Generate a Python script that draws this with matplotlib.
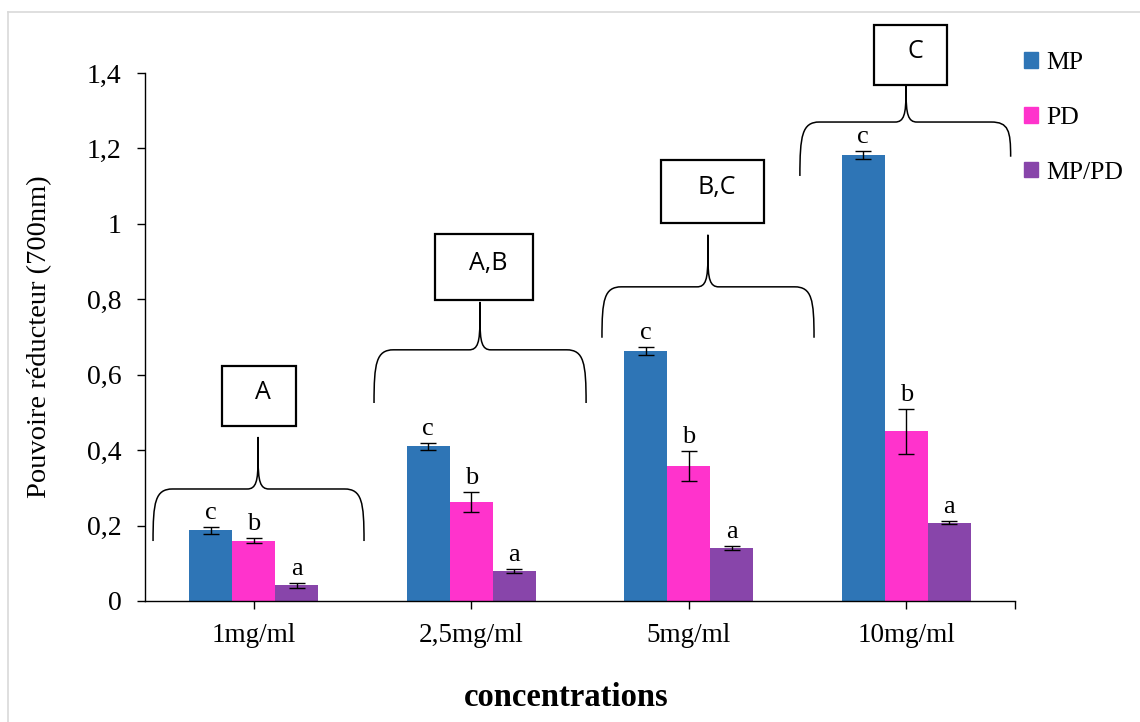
import matplotlib
matplotlib.use("Agg")
import matplotlib.pyplot as plt
import numpy as np
from matplotlib.path import Path
from matplotlib.patches import PathPatch, Rectangle
from matplotlib.lines import Line2D

plt.rcParams['font.family'] = ['Liberation Serif', 'DejaVu Serif']

categories = ['1mg/ml', '2,5mg/ml', '5mg/ml', '10mg/ml']
series = ['MP', 'PD', 'MP/PD']
mp = [0.187, 0.410, 0.663, 1.183]
pd_ = [0.160, 0.262, 0.357, 0.450]
mppd = [0.042, 0.080, 0.140, 0.208]
mp_err = [0.010, 0.010, 0.010, 0.010]
pd_err = [0.006, 0.027, 0.040, 0.060]
mppd_err = [0.007, 0.006, 0.006, 0.005]
letters = ['c', 'b', 'a']
groups = ['A', 'A,B', 'B,C', 'C']
colors = ['#2E75B6', '#FF33CC', '#8845AA']

fig = plt.figure(figsize=(11.4, 7.22), dpi=100)
ax = fig.add_axes([145 / 1140, 1 - 601 / 722, 870 / 1140, 528 / 722])

x = np.arange(len(categories))
w = 0.198
for k, (vals, errs) in enumerate([(mp, mp_err), (pd_, pd_err), (mppd, mppd_err)]):
    pos = x + (k - 1) * w
    ax.bar(pos, vals, w, color=colors[k], label=series[k], zorder=2)
    ax.errorbar(pos, vals, yerr=errs, fmt='none', ecolor='black',
                elinewidth=1.0, capsize=6, capthick=1.0, zorder=3)
    for p, v, e in zip(pos, vals, errs):
        ax.text(p, v + e + 0.008, letters[k], ha='center', va='bottom', fontsize=19)

ax.set_xlim(-0.5, 3.5)
ax.set_ylim(0, 1.4)
ax.set_yticks(np.arange(0, 1.41, 0.2))
ax.set_yticklabels(['0', '0,2', '0,4', '0,6', '0,8', '1', '1,2', '1,4'], fontsize=20)
ax.set_xticks(list(x) + [3.5])
ax.set_xticklabels(categories + [''], fontsize=19.5)
ax.tick_params(axis='x', length=6, width=1, pad=10, direction='out')
ax.tick_params(axis='y', length=6, width=1, pad=11, direction='out')
for s in ['top', 'right']:
    ax.spines[s].set_visible(False)
for s in ['left', 'bottom']:
    ax.spines[s].set_linewidth(1.0)
ax.set_ylabel('Pouvoire réducteur (700nm)', fontsize=20.5)
ax.yaxis.set_label_coords(-0.107, 0.5)
fig.text(566 / 1140, 1 - 697 / 722, 'concentrations', fontsize=23.5,
         fontweight='bold', ha='center', va='center')


def brace(xl, xr, xc, ybl, ybr, yh, ytip):
    # curly brace: left foot, shoulder, central point, right shoulder, right foot
    verts = [
        (xl, ybl), (xl, ybl + 0.75 * (yh - ybl)), (xl + 0.01, yh), (xl + 0.09, yh),
        (xc - 0.05, yh),
        (xc - 0.01, yh), (xc, yh + 0.02), (xc, yh + 0.08),
        (xc, ytip),
        (xc, yh + 0.08),
        (xc, yh + 0.02), (xc + 0.01, yh), (xc + 0.05, yh),
        (xr - 0.09, yh),
        (xr - 0.01, yh), (xr, ybr + 0.75 * (yh - ybr)), (xr, ybr),
    ]
    codes = [Path.MOVETO, Path.CURVE4, Path.CURVE4, Path.CURVE4,
             Path.LINETO,
             Path.CURVE4, Path.CURVE4, Path.CURVE4,
             Path.LINETO,
             Path.LINETO,
             Path.CURVE4, Path.CURVE4, Path.CURVE4,
             Path.LINETO,
             Path.CURVE4, Path.CURVE4, Path.CURVE4]
    ax.add_patch(PathPatch(Path(verts, codes), fill=False, lw=1.1,
                           edgecolor='black', clip_on=False, zorder=4))


braces = [
    (-0.463, 0.507, 0.020, 0.159, 0.159, 0.297, 0.435),
    (0.553, 1.528, 1.040, 0.525, 0.525, 0.666, 0.793),
    (1.601, 2.576, 2.088, 0.698, 0.698, 0.833, 0.971),
    (2.511, 3.480, 2.999, 1.127, 1.178, 1.270, 1.366),
]
boxes = [
    (0.024, 74, 0.464, 0.623),
    (1.058, 98, 0.798, 0.973),
    (2.110, 103, 1.003, 1.170),
    (3.021, 73, 1.368, 1.528),
]
for b, (cx, wpx, y0, y1), g in zip(braces, boxes, groups):
    brace(*b)
    bw = wpx / 217.5
    ax.add_patch(Rectangle((cx - bw / 2, y0), bw, y1 - y0, fill=False,
                           edgecolor='black', lw=1.6, clip_on=False, zorder=4))
    ax.text(cx + 0.02, (y0 + y1) / 2 + 0.01, g, ha='center', va='center',
            fontsize=18, family=['Open Sans', 'DejaVu Sans'])

# legend
handles = [Rectangle((0, 0), 1, 1, color=c) for c in colors]
leg = fig.legend(handles, series, loc='upper left',
                 bbox_to_anchor=(1024 / 1140, 1 - 52 / 722), frameon=False,
                 fontsize=18.5, handlelength=0.55, handleheight=0.55,
                 handletextpad=0.3, labelspacing=1.28,
                 borderaxespad=0, borderpad=0)

# light frame around the chart
fig.add_artist(Line2D([8 / 1140, 8 / 1140], [0, 1 - 12 / 722], color='#d9d9d9', lw=1.2))
fig.add_artist(Line2D([8 / 1140, 1], [1 - 12 / 722, 1 - 12 / 722], color='#d9d9d9', lw=1.2))

fig.savefig('out.png', dpi=100)
